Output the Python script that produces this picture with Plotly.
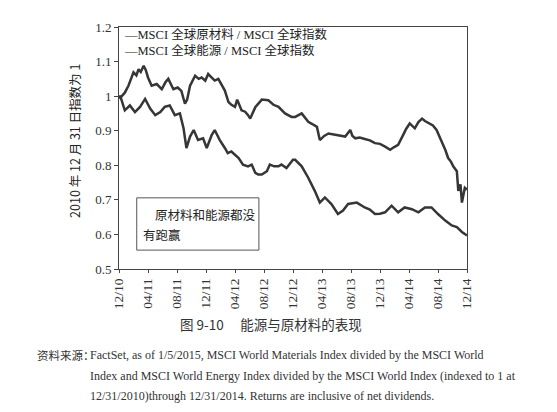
import plotly.graph_objects as go

# months after 12/31/2010 and relative performance (upper line = energy, lower = materials)
energy_months = [0, 0.3, 0.8, 1.3, 2.0, 2.4, 2.7, 3.0, 3.4, 3.7, 4.0, 4.5, 5.2, 5.9, 6.4, 6.8,
                 7.5, 8.1, 8.6, 9.1, 9.4, 9.8, 10.5, 11.0, 11.4, 11.9, 12.3, 12.8, 13.2, 13.7,
                 14.2, 14.6, 15.1, 15.5, 16.0, 16.3, 16.9, 17.4, 17.8, 18.1, 18.8, 19.7, 20.6,
                 21.3, 22.0, 22.9, 23.8, 24.3, 25.2, 26.1, 26.6, 27.3, 27.7, 28.3, 28.9, 29.5,
                 30.2, 31.2, 31.9, 32.2, 32.6, 33.2, 33.9, 34.6, 35.3, 36.0, 36.7, 37.4, 37.9,
                 38.5, 39.2, 39.6, 40.1, 40.8, 41.3, 41.8, 42.2, 42.7, 43.3, 43.8, 44.5, 45.0,
                 45.4, 45.8, 46.1, 46.6, 46.8, 47.1, 47.3, 47.5, 47.7, 48.0]
energy_values = [1.0, 0.998, 1.01, 1.03, 1.069, 1.06, 1.078, 1.07, 1.088, 1.075, 1.054, 1.03,
                 1.035, 1.02, 1.04, 1.05, 1.02, 1.025, 1.015, 0.978, 0.99, 1.03, 1.059, 1.05,
                 1.054, 1.045, 1.064, 1.055, 1.045, 1.05, 1.03, 1.016, 0.983, 0.975, 0.969,
                 0.99, 0.959, 0.955, 0.945, 0.935, 0.968, 0.99, 0.988, 0.975, 0.969, 0.95,
                 0.94, 0.94, 0.95, 0.926, 0.92, 0.911, 0.873, 0.885, 0.892, 0.89, 0.888, 0.883,
                 0.902, 0.885, 0.878, 0.88, 0.876, 0.872, 0.864, 0.862, 0.854, 0.845, 0.852,
                 0.859, 0.888, 0.905, 0.921, 0.907, 0.925, 0.935, 0.928, 0.921, 0.915, 0.902,
                 0.869, 0.845, 0.821, 0.81, 0.797, 0.783, 0.726, 0.745, 0.692, 0.72, 0.735, 0.73]

materials_months = [0, 0.3, 0.8, 1.5, 2.2, 2.9, 3.6, 4.3, 5.0, 5.7, 6.3, 7.0, 7.7, 8.4, 8.9,
                    9.3, 9.8, 10.3, 10.9, 11.6, 12.1, 12.8, 13.2, 13.9, 14.6, 15.0, 15.5, 16.1,
                    16.5, 17.1, 17.8, 18.3, 18.8, 19.2, 19.7, 20.4, 20.8, 21.4, 22.0, 22.4, 23.1,
                    24.0, 24.3, 25.2, 26.1, 27.0, 27.7, 28.4, 29.3, 30.2, 30.9, 31.6, 32.8, 33.9,
                    34.6, 35.3, 36.0, 36.7, 37.6, 38.5, 39.4, 40.4, 41.3, 42.2, 43.1, 44.0, 45.0,
                    45.9, 46.6, 47.3, 48.0]
materials_values = [1.0, 0.992, 0.959, 0.973, 0.954, 0.969, 0.992, 0.964, 0.945, 0.954, 0.969,
                    0.973, 0.945, 0.95, 0.907, 0.85, 0.883, 0.902, 0.873, 0.878, 0.85, 0.888,
                    0.902, 0.873, 0.85, 0.835, 0.84, 0.83, 0.821, 0.802, 0.797, 0.802, 0.778,
                    0.773, 0.773, 0.783, 0.802, 0.797, 0.797, 0.802, 0.792, 0.816, 0.816, 0.797,
                    0.764, 0.726, 0.692, 0.707, 0.688, 0.659, 0.669, 0.688, 0.692, 0.678, 0.672,
                    0.659, 0.66, 0.664, 0.683, 0.664, 0.678, 0.673, 0.664, 0.678, 0.678, 0.659,
                    0.64, 0.626, 0.621, 0.607, 0.597]

tick_months = [0, 4, 8, 12, 16, 20, 24, 28, 32, 36, 40, 44, 48]
tick_labels = ["12/10", "04/11", "08/11", "12/11", "04/12", "08/12", "12/12",
               "04/13", "08/13", "12/13", "04/14", "08/14", "12/14"]

series_names = ["MSCI 全球原材料 / MSCI 全球指数", "MSCI 全球能源 / MSCI 全球指数"]

serif = "Liberation Serif, Times New Roman, Noto Sans CJK SC, serif"
cjk = "Noto Sans CJK SC, sans-serif"
ink = "#363636"


def note(x, y, text, font, xanchor="left", angle=0):
    fig.add_annotation(xref="paper", yref="paper", x=x, y=y, xanchor=xanchor, yanchor="middle",
                       showarrow=False, text=text, font=font, textangle=angle)


fig = go.Figure()
fig.add_trace(go.Scatter(x=materials_months, y=materials_values, mode="lines",
                         name=series_names[0], line=dict(color=ink, width=2.5)))
fig.add_trace(go.Scatter(x=energy_months, y=energy_values, mode="lines",
                         name=series_names[1], line=dict(color=ink, width=2.5)))

# legend drawn as text, like the book figure
for i, name in enumerate(series_names):
    note(0.009, [0.967, 0.902][i], "—" + name, dict(family=serif, size=12.5, color="#222"))

# note box
fig.add_shape(type="rect", xref="paper", yref="paper", x0=0.051, x1=0.402, y0=0.078, y1=0.294,
              line=dict(color="#555", width=1), fillcolor="white")
note(0.098, 0.224, "原材料和能源都没", dict(family=cjk, size=12.5, color="#222"))
note(0.063, 0.143, "有跑赢", dict(family=cjk, size=12.5, color="#222"))

# y title
note(-0.126, 0.53, "2010 年 12 月 31 日指数为 1", dict(family=cjk, size=12.5, color="#222"),
     xanchor="center", angle=-90)

# caption and source
note(0.437, -0.229, "图 9-10　 能源与原材料的表现", dict(family=cjk, size=13.5, color="#333"),
     xanchor="center")
note(-0.241, -0.355, "资料来源：", dict(family=cjk, size=11.5, color="#333"))
source_lines = [
    "FactSet, as of 1/5/2015, MSCI World Materials Index divided by the MSCI World",
    "Index and MSCI World Energy Index divided by the MSCI World Index (indexed to 1 at",
    "12/31/2010)through 12/31/2014. Returns are inclusive of net dividends.",
]
for i, line in enumerate(source_lines):
    note(-0.089, [-0.355, -0.441, -0.524][i], line, dict(family=serif, size=12, color="#333"))

# page body adds 8px, so margins are shifted by that amount
fig.update_layout(
    width=557, height=412,
    margin=dict(l=111, r=98, t=16, b=151),
    paper_bgcolor="white", plot_bgcolor="white",
    showlegend=False,
    xaxis=dict(range=[0, 48], tickmode="array", tickvals=tick_months, ticktext=tick_labels,
               tickangle=-90, ticks="outside", ticklen=3, tickcolor="#444",
               showline=True, linecolor="#444", linewidth=1, mirror=True,
               showgrid=False, zeroline=False,
               tickfont=dict(family=serif, size=13.5, color="#333")),
    yaxis=dict(range=[0.5, 1.2], dtick=0.1, ticks="outside", ticklen=4, tickcolor="#444",
               showline=True, linecolor="#444", linewidth=1, mirror=True,
               showgrid=False, zeroline=False,
               tickfont=dict(family=serif, size=13, color="#333")),
)

fig.write_html("out.html")
